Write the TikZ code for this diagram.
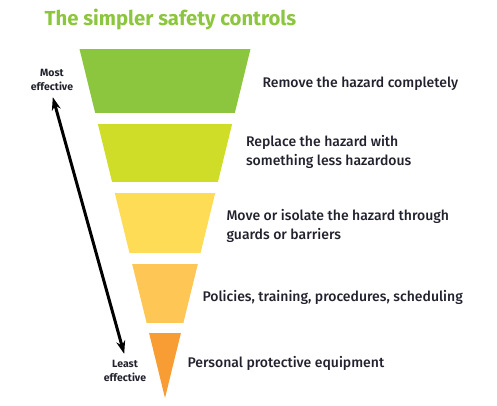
\documentclass[tikz,border=0pt]{standalone}
\usepackage{fontspec}
\setmainfont{Fira Sans}[UprightFont=* Medium, BoldFont=* Bold]
\usetikzlibrary{arrows.meta}
\definecolor{ctrlgreen}{HTML}{8CC63F}
\definecolor{ctrllime}{HTML}{CFDD29}
\definecolor{ctrlyellow}{HTML}{FEDC56}
\definecolor{ctrlamber}{HTML}{FEC655}
\definecolor{ctrlorange}{HTML}{F79D34}
\definecolor{ctrltext}{HTML}{22222E}
\begin{document}
\begin{tikzpicture}[x=1pt, y=-1pt, >={Stealth[length=13pt,width=9pt]}, every node/.style={text=ctrltext},
  label/.style={anchor=west, align=left, font=\fontsize{14}{18.5}\selectfont},
  effect/.style={align=center, font=\bfseries\fontsize{10.5}{14}\selectfont}]
	\useasboundingbox (0,0) rectangle (497,405);
	\coordinate (apex) at (165,398);
	
	% 1. 标题
	\node[text=ctrlgreen, font=\bfseries\fontsize{20.3}{24}\selectfont] (title) at (170.5,20) {The simpler safety controls};
	
	% 2. 漏斗分层 (三角形裁剪)
	\begin{scope}
		\clip (79.5,49) -- (250.5,49) -- (apex) -- cycle;
		\fill[ctrlgreen]  (60,49)  rectangle (270,113);
		\fill[ctrllime]   (60,124) rectangle (270,182);
		\fill[ctrlyellow] (60,193) rectangle (270,253);
		\fill[ctrlamber]  (60,264) rectangle (270,323);
		\fill[ctrlorange] (60,333) rectangle (270,400);
	\end{scope}
	
	% 3. 各层说明
	\node[label] (remove)  at (259,84)    {Remove the hazard completely};
	\node[label] (replace) at (242.5,152) {Replace the hazard with\\something less hazardous};
	\node[label] (isolate) at (223,226)   {Move or isolate the hazard through\\guards or barriers};
	\node[label] (admin)   at (199,297)   {Policies, training, procedures, scheduling};
	\node[label] (ppe)     at (184,363)   {Personal protective equipment};
	
	% 4. 有效性箭头
	\node[effect] (most)  at (52,80)   {Most\\effective};
	\node[effect] (least) at (125,371) {Least\\effective};
	\draw[<->, line width=3pt, shorten <=3pt, shorten >=3pt] (most.south) -- (least.north);
\end{tikzpicture}
\end{document}
